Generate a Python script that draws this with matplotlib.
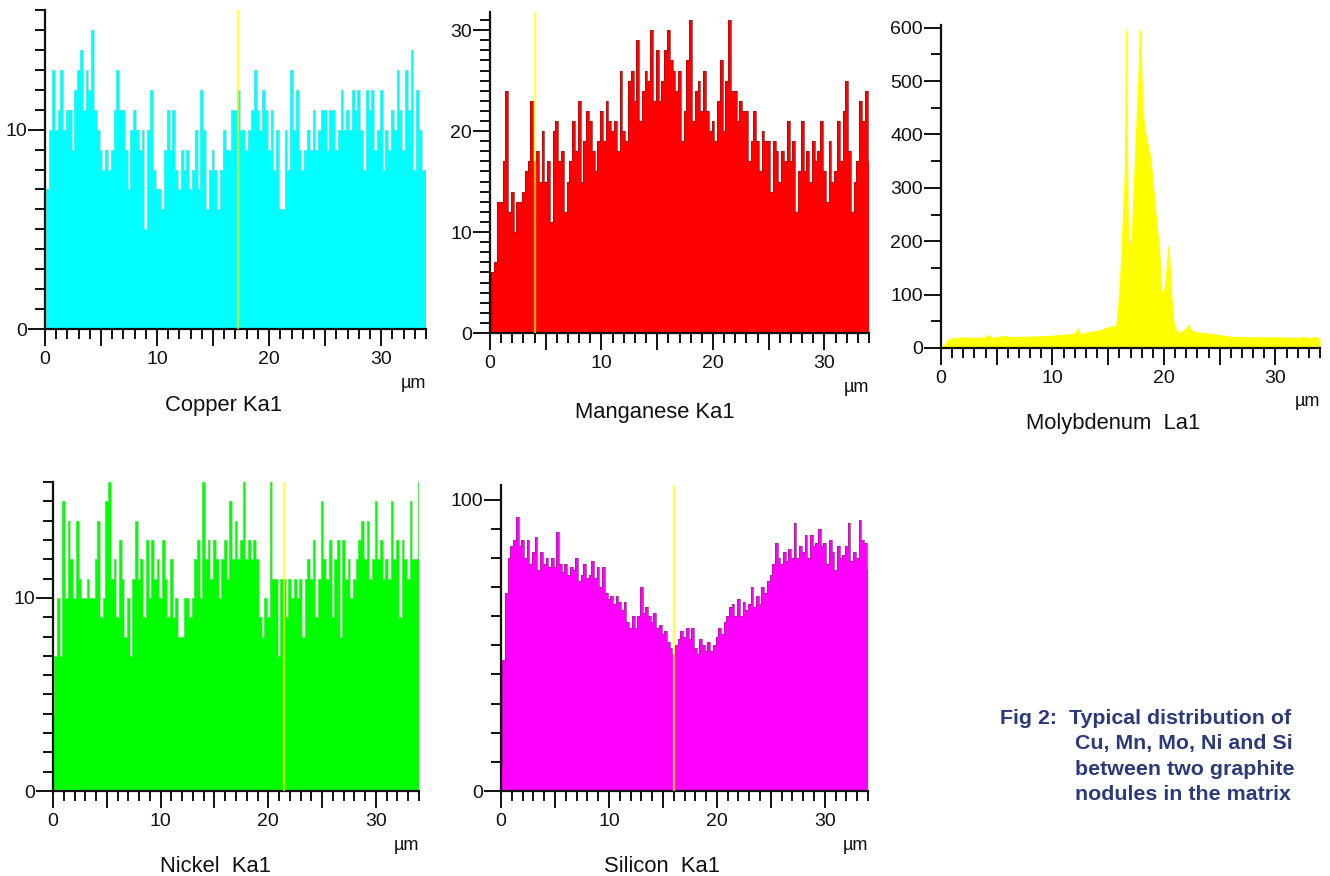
import numpy as np
import matplotlib.pyplot as plt
from matplotlib.ticker import MultipleLocator

plt.rcParams['font.family'] = ['Liberation Sans', 'DejaVu Sans']

# --------------------------
# Line-scan counts (one value every 0.25 um, 0 .. 34 um)
# --------------------------
cu_counts = [0, 7, 10, 13, 10, 11, 13, 10, 11, 11, 9, 12, 13, 14, 11, 13, 12, 15, 11, 10,
             9, 8, 9, 8, 9, 11, 13, 11, 11, 9, 7, 10, 11, 10, 9, 10, 5, 10, 12, 8,
             7, 7, 6, 9, 11, 9, 11, 8, 7, 9, 8, 9, 7, 8, 10, 7, 12, 10, 6, 8,
             9, 8, 6, 8, 10, 9, 9, 11, 11, 12, 10, 10, 9, 10, 11, 13, 11, 10, 12, 11,
             9, 11, 8, 10, 6, 6, 10, 8, 13, 10, 12, 9, 8, 9, 10, 9, 11, 9, 10, 11,
             11, 9, 11, 11, 9, 10, 12, 10, 11, 10, 12, 11, 12, 10, 8, 12, 11, 12, 9, 10,
             12, 8, 10, 9, 11, 10, 13, 11, 9, 13, 11, 14, 8, 12, 10, 8, 8]

mn_counts = [0, 6, 7, 13, 13, 17, 24, 12, 14, 10, 13, 13, 14, 16, 17, 23, 17, 18, 15, 20,
             15, 17, 11, 20, 21, 17, 18, 12, 15, 17, 21, 18, 23, 15, 19, 22, 21, 18, 16, 19,
             22, 19, 23, 21, 20, 21, 18, 26, 20, 19, 25, 26, 23, 29, 21, 24, 26, 25, 30, 23,
             28, 23, 25, 28, 30, 27, 26, 24, 26, 19, 22, 27, 31, 21, 24, 25, 22, 26, 22, 20,
             21, 19, 23, 27, 20, 25, 31, 24, 24, 21, 23, 22, 22, 17, 19, 22, 19, 16, 20, 19,
             19, 14, 19, 18, 15, 18, 17, 21, 17, 19, 12, 16, 21, 16, 18, 15, 19, 17, 18, 21,
             16, 13, 19, 15, 16, 21, 17, 22, 25, 18, 12, 15, 17, 23, 21, 24, 17]

ni_counts = [4, 7, 10, 7, 15, 10, 14, 12, 10, 14, 11, 10, 10, 11, 10, 10, 12, 14, 9, 10,
             15, 16, 11, 12, 9, 13, 11, 8, 10, 7, 11, 14, 11, 12, 9, 13, 10, 13, 11, 12,
             10, 13, 11, 9, 12, 9, 10, 8, 8, 10, 10, 9, 10, 12, 13, 10, 16, 12, 13, 11,
             13, 12, 10, 12, 13, 11, 15, 12, 14, 12, 13, 16, 12, 13, 12, 13, 12, 9, 8, 10,
             9, 16, 11, 11, 7, 11, 11, 9, 11, 10, 11, 10, 11, 8, 11, 12, 11, 13, 9, 11,
             15, 12, 11, 13, 9, 12, 13, 8, 13, 11, 12, 10, 11, 12, 13, 14, 12, 14, 11, 12,
             15, 12, 13, 11, 12, 11, 15, 12, 13, 9, 13, 12, 11, 15, 12, 12, 16]

si_counts = [8, 45, 68, 80, 84, 86, 94, 84, 86, 80, 86, 78, 82, 87, 76, 82, 78, 80, 77, 80,
             77, 89, 78, 75, 78, 74, 77, 76, 80, 72, 74, 78, 73, 74, 79, 73, 77, 70, 77, 68,
             66, 67, 64, 67, 65, 62, 65, 58, 56, 60, 56, 60, 70, 61, 63, 60, 58, 61, 56, 57,
             54, 55, 51, 49, 47, 50, 52, 55, 53, 56, 52, 56, 49, 47, 52, 50, 48, 51, 48, 50,
             53, 56, 54, 58, 60, 63, 64, 60, 66, 60, 65, 62, 64, 70, 63, 67, 64, 70, 68, 72,
             74, 78, 85, 80, 78, 82, 79, 83, 80, 92, 80, 84, 82, 88, 80, 88, 84, 85, 90, 84,
             85, 78, 86, 82, 76, 84, 80, 81, 84, 92, 79, 82, 80, 93, 86, 85, 76]

# molybdenum is smooth apart from the peak, so points are taken where the shape changes
mo_x = [0, 0.3, 0.6, 1, 2, 3, 4, 4.3, 4.6, 5, 5.8, 6.2, 7, 8, 9, 10, 11, 12, 12.3, 12.5,
        13, 14, 14.5, 15, 15.5, 15.7, 15.9, 16.1, 16.3, 16.45, 16.55, 16.65, 16.8, 16.95,
        17.1, 17.4, 17.65, 17.8, 17.95, 18.1, 18.3, 18.6, 18.8, 19.0, 19.3, 19.6, 19.8,
        19.95, 20.15, 20.35, 20.5, 20.7, 20.9, 21.2, 21.6, 22.0, 22.2, 22.4, 23, 24, 25,
        26, 28, 30, 32, 32.5, 33, 33.5, 34]
mo_counts = [0, 8, 17, 19, 21, 20, 21, 26, 20, 21, 24, 21, 22, 22, 23, 24, 26, 28, 38, 27,
             30, 33, 36, 40, 42, 45, 90, 160, 260, 330, 600, 590, 240, 190,
             230, 380, 500, 600, 590, 450, 410, 380, 360, 320, 250, 190, 110,
             100, 140, 195, 180, 100, 50, 30, 32, 38, 46, 35, 30, 28, 25,
             22, 21, 21, 20, 22, 19, 22, 18]

# position of the scan cursor (yellow line) in each panel, um
cursor_cu = 17.2
cursor_mn = 4.0
cursor_ni = 21.5
cursor_si = 16.0

titles = ['Copper Ka1', 'Manganese Ka1', 'Molybdenum  La1', 'Nickel  Ka1', 'Silicon  Ka1']

# --------------------------
# Figure
# --------------------------
W, H = 1330, 876
fig = plt.figure(figsize=(W / 100, H / 100), dpi=100)


def px_axes(left, right, bottom, top):
    return fig.add_axes([left / W, 1 - bottom / H, (right - left) / W, (bottom - top) / H])


panels = [
    # axes box (px), counts, x, fill, edge, ymax, major, minor, cursor, title offset, step
    dict(box=(45, 426, 329, 10), y=cu_counts, x=None, fill='#00ffff', edge='#6fe6e6',
         ymax=16, major=10, minor=1, cursor=cursor_cu, toff=(-12, -76), step=True),
    dict(box=(490, 869, 333, 12), y=mn_counts, x=None, fill='#ff0000', edge='#9a1010',
         ymax=31.8, major=10, minor=1, cursor=cursor_mn, toff=(-25, -79), step=True),
    dict(box=(941, 1320, 348, 25), y=mo_counts, x=mo_x, fill='#ffff00', edge='#ffff00',
         ymax=605, major=100, minor=50, cursor=None, toff=(-17, -75), step=False),
    dict(box=(53, 419, 791, 482), y=ni_counts, x=None, fill='#00ff00', edge='#7ae87a',
         ymax=16, major=10, minor=1, cursor=cursor_ni, toff=(-21, -76), step=True),
    dict(box=(501, 868, 791, 485), y=si_counts, x=None, fill='#ff00ff', edge='#a0208c',
         ymax=105, major=100, minor=10, cursor=cursor_si, toff=(-22, -76), step=True),
]

for p, title in zip(panels, titles):
    ax = px_axes(*p['box'])
    y = np.array(p['y'], dtype=float)
    x = np.array(p['x']) if p['x'] is not None else np.linspace(0, 34, len(y))

    if p['step']:
        ax.fill_between(x, y, step='mid', color=p['fill'], lw=0, zorder=1)
        ax.step(x, y, where='mid', color=p['edge'], lw=0.5, zorder=2)
    else:
        ax.fill_between(x, y, color=p['fill'], lw=0, zorder=1)

    if p['cursor'] is not None:
        ax.axvline(p['cursor'], color='#ffff00', lw=1.6, alpha=0.7, zorder=3)

    ax.set_xlim(0, 34)
    ax.set_ylim(0, p['ymax'])
    for s in ['top', 'right']:
        ax.spines[s].set_visible(False)
    for s in ['left', 'bottom']:
        ax.spines[s].set_linewidth(1.6)
        ax.spines[s].set_color('#111111')

    ax.set_xticks([0, 5, 10, 15, 20, 25, 30])
    ax.set_xticklabels(['0', '', '10', '', '20', '', '30'])
    ax.xaxis.set_minor_locator(MultipleLocator(1))
    ax.yaxis.set_major_locator(MultipleLocator(p['major']))
    ax.yaxis.set_minor_locator(MultipleLocator(p['minor']))

    ax.tick_params(axis='both', which='major', direction='out', length=12, width=1.4,
                   labelsize=14, colors='#111111')
    ax.tick_params(axis='both', which='minor', direction='out', length=7, width=1.4,
                   colors='#111111')
    ax.tick_params(axis='x', which='major', pad=4)
    ax.tick_params(axis='y', which='major', pad=1)

    ax.annotate('µm', xy=(1, 0), xycoords='axes fraction', xytext=(-13, -54),
                textcoords='offset pixels', ha='center', va='center', fontsize=13,
                color='#111111')
    ax.annotate(title, xy=(0.5, 0), xycoords='axes fraction', xytext=p['toff'],
                textcoords='offset pixels', ha='center', va='center', fontsize=15.8,
                color='#111111')

# caption
navy = '#2b3a7b'
fig.text(1000 / W, 1 - 718 / H, 'Fig 2:  Typical distribution of', ha='left', va='center',
         fontsize=15.4, fontweight='bold', color=navy)
for i, line in enumerate(['Cu, Mn, Mo, Ni and Si', 'between two graphite',
                          'nodules in the matrix']):
    fig.text(1075 / W, 1 - (744 + 25.5 * i) / H, line, ha='left', va='center',
             fontsize=15.4, fontweight='bold', color=navy)

plt.savefig('out.png', dpi=100)
